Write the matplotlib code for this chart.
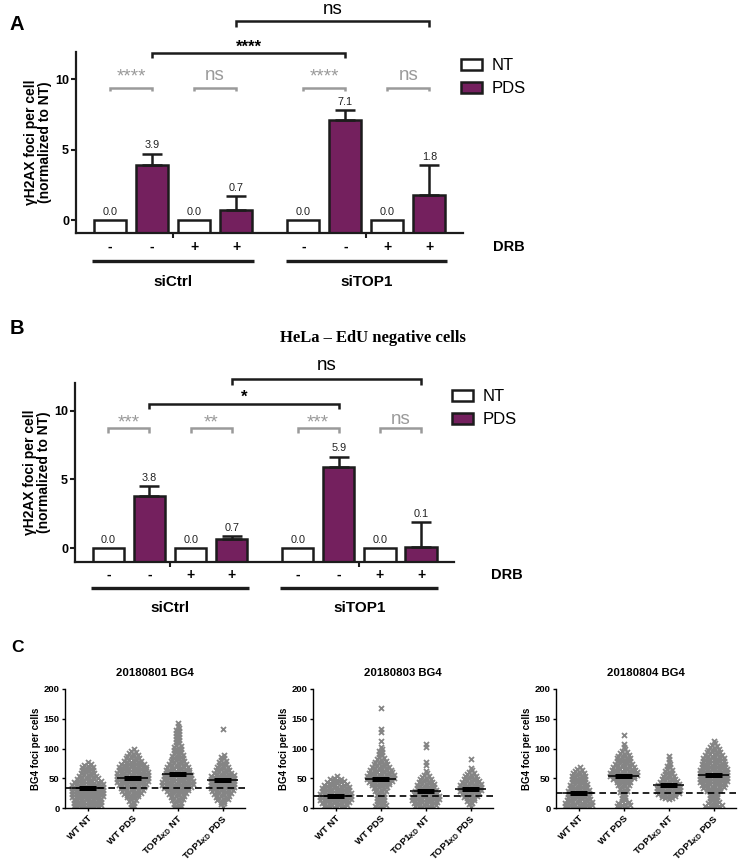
import numpy as np
import matplotlib
matplotlib.use("Agg")
import matplotlib.pyplot as plt
from matplotlib.patches import Patch
from matplotlib.transforms import blended_transform_factory

plt.rcParams['font.family'] = ['Liberation Sans', 'DejaVu Sans']
plt.rcParams['mathtext.fontset'] = 'custom'
plt.rcParams['mathtext.rm'] = 'Liberation Sans:bold'

# ---------------- data: panels A and B ----------------
groups = ['siCtrl', 'siTOP1']
drb = ['-', '-', '+', '+']
treat = ['NT', 'PDS']

a_vals = [0.0, 3.9, 0.0, 0.7, 0.0, 7.1, 0.0, 1.8]
a_errs = [0.0, 0.8, 0.0, 1.0, 0.0, 0.7, 0.0, 2.1]
a_gray_sig = ['****', 'ns', '****', 'ns']
a_black_sig = ['****', 'ns']

b_vals = [0.0, 3.8, 0.0, 0.7, 0.0, 5.9, 0.0, 0.1]
b_errs = [0.0, 0.7, 0.0, 0.2, 0.0, 0.75, 0.0, 1.8]
b_gray_sig = ['***', '**', '***', 'ns']
b_black_sig = ['*', 'ns']
b_title = 'HeLa – EdU negative cells'

# ---------------- data: panel C (cells per 5-foci bin, from 0) ----------------
c_titles = ['20180801 BG4', '20180803 BG4', '20180804 BG4']
c_labels = ['WT NT', 'WT PDS', r'TOP1$_{\mathregular{KD}}$ NT', r'TOP1$_{\mathregular{KD}}$ PDS']

e1_wt_nt = [9, 9, 9, 10, 10, 10, 10, 10, 9, 7, 6, 5, 4, 4, 3, 1]
e1_wt_pds = [2, 2, 3, 4, 6, 7, 8, 9, 10, 10, 10, 10, 9, 9, 8, 6, 5, 4, 3, 2]
e1_kd_nt = [3, 3, 4, 5, 6, 7, 9, 10, 10, 9, 9, 8, 8, 7, 6, 5, 4, 4, 3, 3, 3, 2, 2, 2, 2, 2, 2, 1, 1]
e1_kd_pds = [1, 2, 4, 5, 6, 7, 8, 8, 8, 8, 8, 6, 5, 4, 3, 3, 2, 2, 0, 0, 0, 0, 0, 0, 0, 0, 1]
e1_means = [33, 50, 57, 47]

e2_wt_nt = [8, 9, 10, 10, 10, 9, 9, 8, 6, 4, 2]
e2_wt_pds = [4, 3, 3, 3, 3, 4, 5, 6, 8, 9, 9, 8, 7, 6, 5, 4, 3, 2, 2, 2, 1, 0, 1, 0, 0, 1, 1,
             0, 0, 0, 0, 0, 0, 1]
e2_kd_nt = [7, 8, 9, 9, 8, 7, 6, 6, 5, 4, 3, 2, 1, 0, 1, 1, 0, 0, 0, 0, 1, 1]
e2_kd_pds = [1, 2, 3, 5, 6, 7, 7, 7, 6, 5, 4, 3, 2, 1, 0, 0, 1]
e2_means = [21, 49, 28, 32]

e3_wt_nt = [9, 9, 8, 7, 7, 7, 6, 6, 5, 5, 5, 4, 3, 2]
e3_wt_pds = [5, 4, 2, 2, 2, 3, 3, 4, 5, 7, 9, 9, 8, 7, 6, 5, 5, 4, 3, 2, 1, 1, 0, 0, 1]
e3_kd_nt = [0, 0, 0, 5, 7, 8, 8, 7, 6, 5, 4, 3, 3, 2, 2, 1, 1, 1]
e3_kd_pds = [6, 4, 3, 3, 3, 5, 7, 8, 9, 9, 9, 9, 9, 8, 8, 7, 7, 6, 5, 4, 3, 2, 1]
e3_means = [26, 53, 38, 55]

W, H = 745, 866
PURPLE = '#74205e'
EDGE = '#1c1c1c'
GRAY_SIG = '#9a9a9a'

fig = plt.figure(figsize=(W / 100, H / 100), dpi=100)


def px_axes(x0, y0, x1, y1):
    return fig.add_axes([x0 / W, 1 - y1 / H, (x1 - x0) / W, (y1 - y0) / H])


def bracket(ax, x0, x1, y, h, color, lw):
    ax.plot([x0, x0, x1, x1], [y - h, y, y, y - h], color=color, lw=lw,
            clip_on=False, solid_joinstyle='miter', solid_capstyle='butt')


def bar_panel(ax, vals, errs, ylim, gray_sig, black_sig, lay):
    xs = [g * 4.6 + i for g in range(2) for i in range(4)]
    vals = np.array(vals)
    errs = np.array(errs)
    colors = ['white', PURPLE] * 4
    ax.bar(xs, vals - ylim[0], bottom=ylim[0], width=0.76, color=colors,
           edgecolor=EDGE, linewidth=1.8, zorder=2)
    m = errs > 0
    ax.errorbar(np.array(xs)[m], vals[m], yerr=[np.zeros(m.sum()), errs[m]],
                fmt='none', ecolor=EDGE, elinewidth=1.8, capsize=7.5, capthick=1.8, zorder=3)
    for x, v, e in zip(xs, vals, errs):
        ax.text(x, v + e + 0.38, f'{v:.1f}', ha='center', va='baseline', fontsize=7.8,
                color='#222222')

    ax.set_xlim(-0.81, 8.4)
    ax.set_ylim(*ylim)
    for s in ['top', 'right']:
        ax.spines[s].set_visible(False)
    for s in ['left', 'bottom']:
        ax.spines[s].set_linewidth(1.6)
        ax.spines[s].set_color(EDGE)
    ax.set_yticks([0, 5, 10])
    ax.set_yticklabels(['0', '5', '10'], fontweight='bold', fontsize=9)
    ax.set_xticks([1.5, 6.1])
    ax.set_xticklabels([])
    ax.tick_params(axis='both', length=3.5, width=1.5, pad=1.5, color=EDGE)
    ax.set_ylabel('γH2AX foci per cell\n(normalized to NT)', fontweight='bold',
                  fontsize=10, labelpad=2, linespacing=1.0)

    # grey within-pair brackets
    for k, lab in enumerate(gray_sig):
        x0, x1 = xs[2 * k], xs[2 * k + 1]
        bracket(ax, x0, x1, lay['gray_y'], lay['gray_h'], GRAY_SIG, 1.8)
        ty = lay['gray_star'] if '*' in lab else lay['gray_ns']
        ax.text((x0 + x1) / 2, ty, lab, ha='center', va='baseline', color=GRAY_SIG,
                fontsize=13.5, clip_on=False)
    # black across-group brackets
    for (i0, i1), lab, by, ty in zip([(1, 5), (3, 7)], black_sig, lay['black_y'], lay['black_txt']):
        bracket(ax, xs[i0], xs[i1], by, lay['black_h'], EDGE, 1.8)
        if '*' in lab:
            ax.text((xs[i0] + xs[i1]) / 2, ty, lab, ha='center', va='baseline',
                    fontsize=12, fontweight='bold', clip_on=False)
        else:
            ax.text((xs[i0] + xs[i1]) / 2, ty, lab, ha='center', va='baseline',
                    fontsize=13.5, clip_on=False)

    # DRB row, group lines, group names
    tr = blended_transform_factory(ax.transData, ax.transAxes)
    for x, s in zip(xs, drb * 2):
        ax.text(x, lay['sign_y'], s, ha='center', va='center', fontsize=10,
                fontweight='bold', transform=tr)
    ax.text(lay['drb_x'], lay['sign_y'], 'DRB', ha='left', va='center', fontsize=10.5,
            fontweight='bold', transform=tr)
    for g, name in enumerate(groups):
        x0, x1 = xs[4 * g] - 0.42, xs[4 * g + 3] + 0.42
        ax.plot([x0, x1], [lay['line_y']] * 2, color=EDGE, lw=2.4, transform=tr,
                clip_on=False, solid_capstyle='butt')
        ax.text((x0 + x1) / 2, lay['name_y'], name, ha='center', va='center',
                fontsize=11, fontweight='bold', transform=tr)

    handles = [Patch(facecolor=c, edgecolor=EDGE, linewidth=1.8) for c in ['white', PURPLE]]
    ax.legend(handles, treat, loc='upper left', bbox_to_anchor=lay['leg'],
              bbox_transform=fig.transFigure, frameon=False, fontsize=12,
              handlelength=1.25, handleheight=0.65, handletextpad=0.6,
              labelspacing=0.5, borderpad=0, borderaxespad=0)


ax_a = px_axes(76, 52, 463, 233)
bar_panel(ax_a, a_vals, a_errs, (-0.92, 11.92), a_gray_sig, a_black_sig,
          dict(gray_y=9.38, gray_h=0.25, gray_star=9.8, gray_ns=9.93,
               black_y=[11.87, 14.1], black_h=0.4, black_txt=[11.97, 14.6],
               sign_y=-0.077, line_y=-0.155, name_y=-0.27, drb_x=9.12,
               leg=(461 / W, 1 - 58 / H)))

ax_b = px_axes(75, 383, 454, 562)
bar_panel(ax_b, b_vals, b_errs, (-1.0, 12.0), b_gray_sig, b_black_sig,
          dict(gray_y=8.7, gray_h=0.35, gray_star=8.75, gray_ns=9.05,
               black_y=[10.5, 12.3], black_h=0.42, black_txt=[10.65, 12.95],
               sign_y=-0.073, line_y=-0.145, name_y=-0.257, drb_x=9.3,
               leg=(452 / W, 1 - 389 / H)))
ax_b.text(0.5, 1 - 338 / H, b_title, transform=fig.transFigure, ha='center', va='center',
          fontsize=12, fontweight='bold', family='Liberation Serif')

fig.text(10 / W, 1 - 24 / H, 'A', fontsize=14.5, fontweight='bold', va='center')
fig.text(10 / W, 1 - 328 / H, 'B', fontsize=14.5, fontweight='bold', va='center')
fig.text(11 / W, 1 - 648 / H, 'C', fontsize=12.5, fontweight='bold', va='center')

# ---------------- panel C ----------------
exps = [
    ([e1_wt_nt, e1_wt_pds, e1_kd_nt, e1_kd_pds], e1_means),
    ([e2_wt_nt, e2_wt_pds, e2_kd_nt, e2_kd_pds], e2_means),
    ([e3_wt_nt, e3_wt_pds, e3_kd_nt, e3_kd_pds], e3_means),
]
c_rects = [(65, 689, 245, 808), (313, 689, 493, 808), (556, 689, 736, 808)]
BIN = 5
DX = 0.075


def swarm(ax, pos, counts):
    # place each bin's cells side by side, filled from the centre outwards
    xs, ys = [], []
    for i, n in enumerate(counts):
        if n == 0:
            continue
        base = np.arange(n) - (n - 1) / 2
        base = base[np.argsort(np.abs(base), kind='stable')]
        for k in range(n):
            xs.append(pos + base[k] * DX)
            ys.append(i * BIN + (k + 0.5) * BIN / n)
    ax.plot(xs, ys, ls='none', marker='x', ms=3.6, mew=1.3, color='#858585', zorder=2)


for (cnts, means), title, rect in zip(exps, c_titles, c_rects):
    ax = px_axes(*rect)
    for p, c in enumerate(cnts):
        swarm(ax, p, c)
    for p, mv in enumerate(means):
        ax.hlines(mv, p - 0.34, p + 0.34, color='black', lw=1.1, zorder=3)
        ax.hlines(mv, p - 0.19, p + 0.19, color='black', lw=3.6, zorder=3)
    ax.axhline(means[0], color='black', lw=1.2, ls=(0, (4, 2.5)), zorder=4)
    ax.set_xlim(-0.5, 3.5)
    ax.set_ylim(0, 200)
    ax.set_yticks([0, 50, 100, 150, 200])
    ax.set_xticks(range(4))
    ax.set_xticklabels(c_labels, rotation=45, ha='right', rotation_mode='anchor',
                       fontsize=6.8, fontweight='bold')
    for lab in ax.get_yticklabels():
        lab.set_fontweight('bold')
        lab.set_fontsize(6.8)
    for s in ['top', 'right']:
        ax.spines[s].set_visible(False)
    for s in ['left', 'bottom']:
        ax.spines[s].set_linewidth(1.0)
    ax.tick_params(length=2.5, width=1.0, pad=1.5)
    ax.set_ylabel('BG4 foci per cells', fontsize=7, fontweight='bold', labelpad=2)
    ax.set_title(title, fontsize=8.2, fontweight='bold', pad=9)

fig.savefig('out.png', dpi=100)
